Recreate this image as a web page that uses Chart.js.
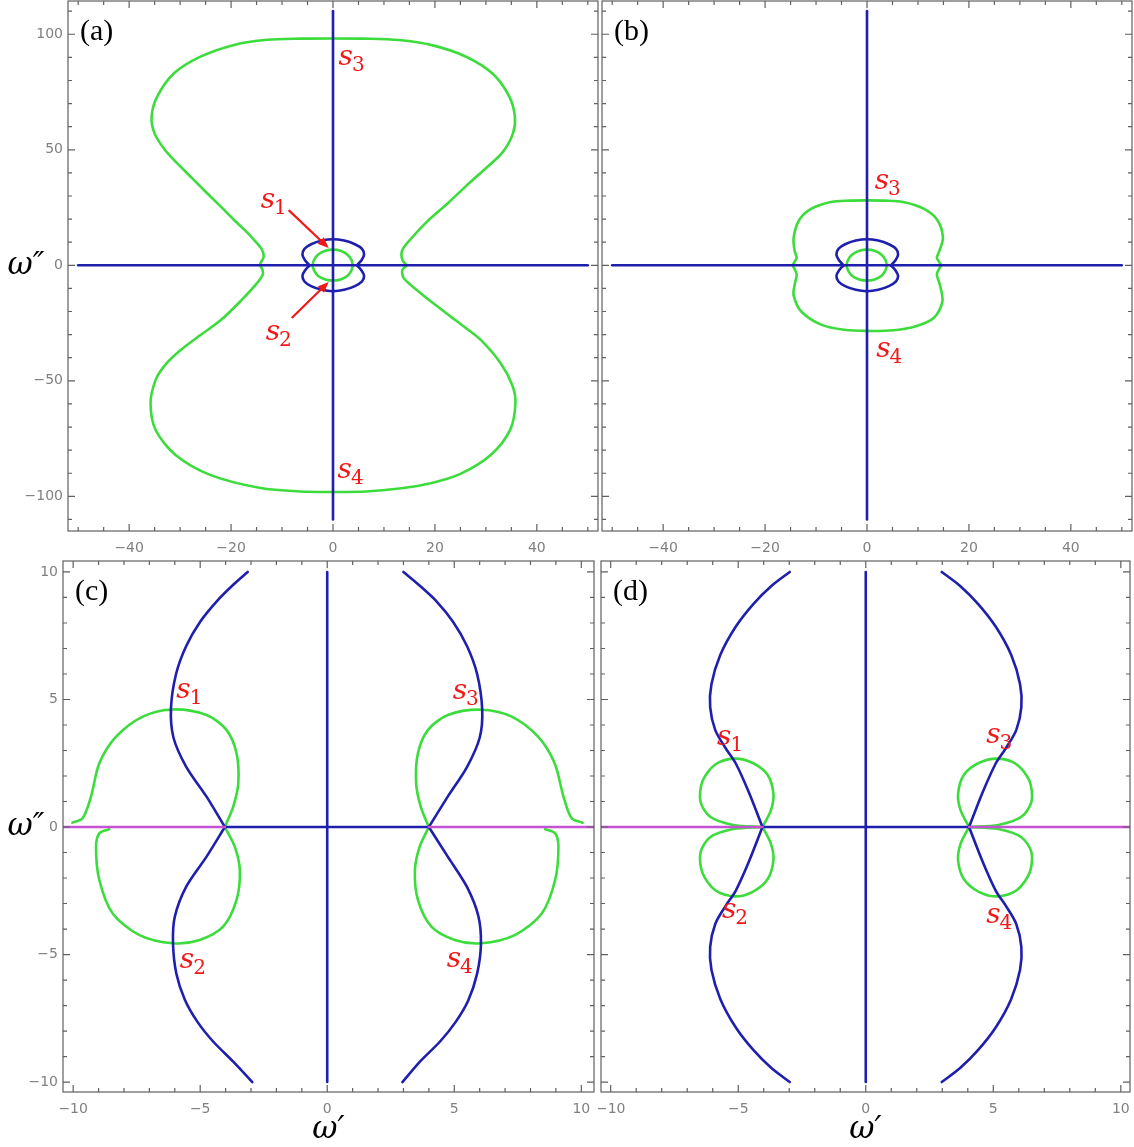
<!DOCTYPE html>
<html>
<head>
<meta charset="utf-8">
<script src="https://cdn.jsdelivr.net/npm/chart.js@4.4.1/dist/chart.umd.min.js"></script>
<style>
  body { margin: 0; background: #fff; }
  #wrap { position: relative; width: 1134px; height: 1147px; }
  canvas { position: absolute; }
</style>
</head>
<body>
<div id="wrap">
  <canvas id="panelA" width="600" height="560" style="left:0;top:0"></canvas>
  <canvas id="panelB" width="534" height="560" style="left:600px;top:0"></canvas>
  <canvas id="panelC" width="598" height="587" style="left:0;top:560px"></canvas>
  <canvas id="panelD" width="536" height="587" style="left:598px;top:560px"></canvas>
</div>
<script>
// ---- tick labels ----
const wideXLabels = [-40, -20, 0, 20, 40];
const wideYLabels = [-100, -50, 0, 50, 100];
const zoomXLabels = [-10, -5, 0, 5, 10];
const zoomYLabels = [-10, -5, 0, 5, 10];

// ---- panels (a), (b): axes and the small central pair ----
const wideAxisH = [[-50, 0], [50, 0]];
const wideAxisV = [[0, -110], [0, 110]];
const ringBlueUpper = [[-4.6,0],[-5.5,2.2],[-6.0,4.6],[-5.6,7.1],[-4.3,9.1],[-2.2,10.7],[0,11.3],[2.2,10.7],[4.3,9.1],[5.7,7.1],[6.1,4.6],[5.6,2.2],[4.7,0]];
const ringBlueLower = [[-4.6,0],[-5.5,-2.2],[-6.0,-4.5],[-5.6,-7.0],[-4.3,-9.0],[-2.2,-10.6],[0,-11.2],[2.2,-10.6],[4.3,-9.0],[5.7,-7.0],[6.1,-4.5],[5.6,-2.2],[4.7,0]];
const ringGreen = [[3.9,0],[3.6,2.4],[2.8,4.7],[1.5,6.3],[0,6.8],[-1.5,6.3],[-2.9,4.7],[-3.7,2.4],[-4.0,0],[-3.7,-2.3],[-2.9,-4.6],[-1.5,-6.1],[0,-6.6],[1.5,-6.1],[2.8,-4.6],[3.6,-2.3],[3.9,0]];

// (a) large hourglass contour
const aGreen = [[14.5,0],[13.6,2.3],[13.6,6.6],[15.3,11.5],[18.5,19],[22.6,27],[26.2,34.5],[30,42],[33.3,49],[35.3,57],[35.7,64],[34.6,73],[31.3,83],[26,90.4],[19.4,95.3],[12.9,97.5],[6.3,98.1],[0,98.2],[-6.3,98.1],[-12.9,97.6],[-19.4,95.4],[-26,90.3],[-31.2,83.1],[-34.5,73],[-35.6,64.3],[-35,57],[-33,50],[-30.6,44.2],[-27.6,37.6],[-24.7,31.2],[-22,25.4],[-19.4,19.6],[-17.2,15],[-15.5,11],[-14,7],[-13.6,3.7],[-14.3,0.4],[-13.8,-2.2],[-13.8,-4.2],[-15.2,-8.5],[-18,-15.2],[-22,-23.7],[-26,-30.2],[-29.9,-36.7],[-33,-43.3],[-34.8,-49.6],[-35.8,-59.6],[-34.8,-71.3],[-30.9,-82.1],[-24,-90.8],[-14.2,-96.4],[-6.5,-97.9],[0,-98.1],[6.5,-97.9],[13,-96.6],[19.2,-94.3],[25,-90.3],[31,-82],[34.8,-71],[35.8,-59.6],[35.2,-52],[32.9,-42.4],[29,-32.3],[26,-27],[23.1,-22.2],[20,-17],[17.2,-12.1],[13.9,-5.6],[13.6,-2],[14.5,0]];

// (b) compact contour
const bGreen = [[14.6,0],[14.2,1.3],[13.7,3.3],[14.2,6.2],[14.9,12],[13.8,19.6],[11.2,24.4],[7.3,27.3],[3.5,28],[0,28.1],[-3.5,28],[-7.3,27.3],[-11,24.4],[-13.3,19.6],[-14.4,12],[-14.2,6.2],[-13.8,3.3],[-14.3,1.2],[-14.6,0],[-14.3,-1.2],[-13.8,-4],[-14.2,-8.4],[-14.4,-13],[-12.9,-20],[-8.9,-25.8],[-4.5,-27.9],[0,-28.4],[5.3,-28.1],[9.6,-26.4],[13.2,-22.6],[14.8,-15.7],[14.3,-8.4],[13.7,-4],[14.2,-1.3],[14.6,0]];

// ---- panels (c), (d) ----
const zoomAxisV = [[0, -10], [0, 10]];
const cAxisH = [[-4.03, 0], [4.0, 0]];
const cMagentaL = [[-10.6, 0], [-4.03, 0]];
const cMagentaR = [[4.0, 0], [10.6, 0]];
const cBlueLeftUp = [[-3.13,10],[-3.7,9.5],[-4.35,8.85],[-5.0,8.05],[-5.55,7.1],[-5.95,6.0],[-6.15,4.65],[-6.05,3.5],[-5.55,2.36],[-4.75,1.19],[-4.03,0]];
const cBlueLeftDown = [[-4.03,0],[-4.75,-1.16],[-5.55,-2.34],[-6.0,-3.52],[-6.07,-4.56],[-5.94,-5.74],[-5.6,-6.78],[-5.1,-7.65],[-4.5,-8.4],[-3.7,-9.2],[-2.95,-10]];
const cBlueRightUp = [[3.0,10],[3.6,9.5],[4.3,8.85],[4.95,8.05],[5.5,7.1],[5.9,6.0],[6.1,4.6],[6.0,3.5],[5.5,2.35],[4.75,1.2],[4.0,0]];
const cBlueRightDown = [[4.0,0],[4.75,-1.17],[5.5,-2.35],[5.95,-3.5],[6.05,-4.6],[5.9,-5.75],[5.55,-6.8],[5.05,-7.65],[4.45,-8.4],[3.65,-9.2],[2.96,-10]];
const cGreenLeftUp = [[-4.03,0],[-3.7,0.8],[-3.5,1.71],[-3.57,2.89],[-3.96,3.8],[-4.75,4.39],[-6.07,4.61],[-7.26,4.33],[-8.31,3.54],[-8.97,2.5],[-9.3,1.19],[-9.63,0.34],[-10.03,0.17]];
const cGreenLeftDown = [[-4.03,0],[-3.64,-0.77],[-3.44,-1.69],[-3.57,-2.86],[-4.1,-3.91],[-5.02,-4.43],[-6.07,-4.56],[-7.39,-4.24],[-8.45,-3.38],[-8.97,-2.08],[-9.1,-0.77],[-8.97,-0.25],[-8.58,-0.09]];
const cGreenRightUp = [[4.0,0],[3.68,0.8],[3.5,1.71],[3.57,2.89],[3.96,3.8],[4.75,4.39],[6.05,4.6],[7.26,4.33],[8.3,3.54],[8.95,2.5],[9.3,1.19],[9.62,0.34],[10.05,0.17]];
const cGreenRightDown = [[4.0,0],[3.64,-0.77],[3.45,-1.69],[3.57,-2.86],[4.1,-3.91],[5.02,-4.43],[6.05,-4.56],[7.38,-4.24],[8.45,-3.38],[8.97,-2.08],[9.1,-0.77],[8.97,-0.25],[8.58,-0.09]];

const dAxisH = [[-4.05, 0], [4.05, 0]];
const dMagentaL = [[-10.6, 0], [-4.05, 0]];
const dMagentaR = [[4.05, 0], [10.6, 0]];
const dBlueLeftUp = [[-2.98,10],[-3.7,9.45],[-4.4,8.75],[-5.1,7.85],[-5.7,6.75],[-6.05,5.6],[-6.1,4.7],[-5.9,3.8],[-5.5,3.1],[-5.1,2.5],[-4.6,1.4],[-4.05,0]];
const dBlueLeftDown = [[-4.05,0],[-4.6,-1.4],[-5.1,-2.5],[-5.5,-3.1],[-5.9,-3.8],[-6.1,-4.7],[-6.05,-5.6],[-5.7,-6.75],[-5.1,-7.85],[-4.4,-8.75],[-3.7,-9.45],[-2.98,-10]];
const dBlueRightUp = [[2.98,10],[3.7,9.45],[4.4,8.75],[5.1,7.85],[5.7,6.75],[6.05,5.6],[6.1,4.7],[5.9,3.8],[5.5,3.1],[5.1,2.5],[4.6,1.4],[4.05,0]];
const dBlueRightDown = [[4.05,0],[4.6,-1.4],[5.1,-2.5],[5.5,-3.1],[5.9,-3.8],[6.1,-4.7],[6.05,-5.6],[5.7,-6.75],[5.1,-7.85],[4.4,-8.75],[3.7,-9.45],[2.98,-10]];
const dGreenLeftUp = [[-4.05,0],[-3.72,0.65],[-3.62,1.3],[-3.85,2.05],[-4.45,2.52],[-5.16,2.68],[-5.9,2.45],[-6.4,1.8],[-6.48,1.0],[-6.1,0.4],[-5.2,0.08],[-4.05,0]];
const dGreenLeftDown = [[-4.05,0],[-3.72,-0.65],[-3.62,-1.3],[-3.85,-2.05],[-4.45,-2.55],[-5.16,-2.72],[-5.9,-2.48],[-6.4,-1.8],[-6.48,-1.0],[-6.1,-0.4],[-5.2,-0.08],[-4.05,0]];
const dGreenRightUp = [[4.05,0],[3.72,0.65],[3.62,1.3],[3.85,2.05],[4.45,2.52],[5.2,2.68],[5.92,2.45],[6.42,1.8],[6.5,1.0],[6.1,0.4],[5.2,0.08],[4.05,0]];
const dGreenRightDown = [[4.05,0],[3.72,-0.65],[3.62,-1.3],[3.85,-2.05],[4.45,-2.55],[5.2,-2.72],[5.92,-2.48],[6.42,-1.8],[6.5,-1.0],[6.1,-0.4],[5.2,-0.08],[4.05,0]];

// saddle-point labels: [x, y, index]
const aSaddles = [[1.1, 86.7, '3'], [-14.2, 24.8, '1'], [-13.2, -32.3, '2'], [0.9, -92, '4']];
const aArrows = [[[-8.7, 23.9], [-0.85, 7.5]], [[-8.1, -22.8], [-0.85, -7.2]]];
const bSaddles = [[1.5, 33.2, '3'], [1.8, -39.7, '4']];
const cSaddles = [[-5.94, 5.05, '1'], [-5.8, -5.54, '2'], [4.94, 5.02, '3'], [4.7, -5.49, '4']];
const dSaddles = [[-5.83, 3.2, '1'], [-5.64, -3.57, '2'], [4.72, 3.3, '3'], [4.72, -3.76, '4']];

const GREEN = '#3ddc3d';
const BLUE = '#1f1fae';
const MAGENTA = '#c452d2';
const RED = '#f01818';

const pts = arr => arr.map(([x, y]) => ({x, y}));

function curve(arr, color, smooth) {
  return {
    data: pts(arr),
    borderColor: color,
    borderWidth: 2.6,
    showLine: true,
    pointRadius: 0,
    tension: smooth ? 0.3 : 0,
    borderCapStyle: 'round',
    borderJoinStyle: 'round'
  };
}

const minus = v => String(v).replace('-', '\u2212');

function axis(min, max, labels, show, size, pad) {
  return {
    type: 'linear',
    min: min,
    max: max,
    display: show,
    grid: {display: false, drawTicks: false},
    border: {display: false},
    ticks: {
      autoSkip: false,
      maxRotation: 0,
      padding: pad,
      color: '#808080',
      font: {family: 'DejaVu Sans', size: 14},
      callback: minus
    },
    afterBuildTicks: s => { s.ticks = labels.map(value => ({value})); },
    afterFit: s => {
      if (s.isHorizontal()) s.height = size; else s.width = size;
      // keep the plot box fixed; end labels may hang over the edge
      s.paddingTop = s.paddingBottom = s.paddingLeft = s.paddingRight = 0;
    }
  };
}

// frame with inward ticks on all four sides, panel tag, saddle labels, arrows, axis titles
const decor = {
  id: 'decor',
  afterDatasetsDraw(chart, args, o) {
    const {ctx, chartArea: a, scales: {x, y}} = chart;
    ctx.save();
    ctx.strokeStyle = '#606060';
    ctx.lineWidth = 1.2;
    ctx.strokeRect(a.left, a.top, a.right - a.left, a.bottom - a.top);

    const marks = (scale, minor, major, horiz) => {
      const first = Math.ceil(scale.min / minor);
      const last = Math.floor(scale.max / minor);
      for (let k = first; k <= last; k++) {
        const v = k * minor;
        const len = (Math.abs(v % major) < 1e-6) ? 7 : 4;
        const p = scale.getPixelForValue(v);
        ctx.beginPath();
        if (horiz) {
          ctx.moveTo(p, a.bottom); ctx.lineTo(p, a.bottom - len);
          ctx.moveTo(p, a.top); ctx.lineTo(p, a.top + len);
        } else {
          ctx.moveTo(a.left, p); ctx.lineTo(a.left + len, p);
          ctx.moveTo(a.right, p); ctx.lineTo(a.right - len, p);
        }
        ctx.stroke();
      }
    };
    marks(x, o.xMinor, o.xMajor, true);
    marks(y, o.yMinor, o.yMajor, false);

    ctx.fillStyle = '#000';
    ctx.textAlign = 'left';
    ctx.textBaseline = 'alphabetic';
    ctx.font = '30px "Liberation Serif"';
    ctx.fillText(o.tag, a.left + 12, a.top + 39);

    (o.saddles || []).forEach(([sx, sy, n]) => {
      const px = x.getPixelForValue(sx);
      const py = y.getPixelForValue(sy);
      ctx.fillStyle = RED;
      ctx.font = 'italic 28px "DejaVu Serif"';
      ctx.fillText('s', px, py);
      const w = ctx.measureText('s').width;
      ctx.font = '20px "DejaVu Serif"';
      ctx.fillText(n, px + w - 1, py + 6);
    });

    (o.arrows || []).forEach(([from, to]) => {
      const x1 = x.getPixelForValue(from[0]), y1 = y.getPixelForValue(from[1]);
      const x2 = x.getPixelForValue(to[0]), y2 = y.getPixelForValue(to[1]);
      const ang = Math.atan2(y2 - y1, x2 - x1);
      const head = 11;
      ctx.strokeStyle = RED;
      ctx.fillStyle = RED;
      ctx.lineWidth = 2.2;
      ctx.beginPath();
      ctx.moveTo(x1, y1);
      ctx.lineTo(x2 - head * 0.8 * Math.cos(ang), y2 - head * 0.8 * Math.sin(ang));
      ctx.stroke();
      ctx.beginPath();
      ctx.moveTo(x2, y2);
      ctx.lineTo(x2 - head * Math.cos(ang) + 4.5 * Math.sin(ang), y2 - head * Math.sin(ang) - 4.5 * Math.cos(ang));
      ctx.lineTo(x2 - head * Math.cos(ang) - 4.5 * Math.sin(ang), y2 - head * Math.sin(ang) + 4.5 * Math.cos(ang));
      ctx.closePath();
      ctx.fill();
    });

    ctx.fillStyle = '#000';
    ctx.textAlign = 'center';
    ctx.textBaseline = 'middle';
    ctx.font = 'italic 31px "DejaVu Serif"';
    if (o.yTitle) ctx.fillText(o.yTitle, 26, (a.top + a.bottom) / 2);
    if (o.xTitle) ctx.fillText(o.xTitle, (a.left + a.right) / 2, a.bottom + 38);
    ctx.restore();
  }
};

function panel(id, datasets, scales, padding, deco) {
  new Chart(document.getElementById(id), {
    type: 'scatter',
    data: {datasets: datasets},
    options: {
      responsive: false,
      animation: false,
      devicePixelRatio: 1,
      layout: {padding: padding, autoPadding: false},
      plugins: {legend: {display: false}, tooltip: {enabled: false}, decor: deco},
      scales: scales
    },
    plugins: [decor]
  });
}

// (a)
panel('panelA', [
  curve(wideAxisV, BLUE), curve(wideAxisH, BLUE),
  curve(ringBlueUpper, BLUE, true), curve(ringBlueLower, BLUE, true),
  curve(ringGreen, GREEN, true), curve(aGreen, GREEN, true)
], {
  x: axis(-52, 52, wideXLabels, true, 29, 9),
  y: axis(-115, 114.4, wideYLabels, true, 68, 5)
}, {left: 0, top: 1, right: 2, bottom: 0}, {
  tag: '(a)', xMinor: 5, xMajor: 20, yMinor: 10, yMajor: 50,
  saddles: aSaddles, arrows: aArrows, yTitle: '\u03c9\u2033'
});

// (b)
panel('panelB', [
  curve(wideAxisV, BLUE), curve(wideAxisH, BLUE),
  curve(ringBlueUpper, BLUE, true), curve(ringBlueLower, BLUE, true),
  curve(ringGreen, GREEN, true), curve(bGreen, GREEN, true)
], {
  x: axis(-52, 52, wideXLabels, true, 29, 9),
  y: axis(-115, 114.4, wideYLabels, false, 0, 5)
}, {left: 2, top: 1, right: 2, bottom: 0}, {
  tag: '(b)', xMinor: 5, xMajor: 20, yMinor: 10, yMajor: 50,
  saddles: bSaddles
});

// (c)
panel('panelC', [
  curve(cMagentaL, MAGENTA), curve(cMagentaR, MAGENTA),
  curve(zoomAxisV, BLUE), curve(cAxisH, BLUE),
  curve(cBlueLeftUp, BLUE, true), curve(cBlueLeftDown, BLUE, true),
  curve(cBlueRightUp, BLUE, true), curve(cBlueRightDown, BLUE, true),
  curve(cGreenLeftUp, GREEN, true), curve(cGreenLeftDown, GREEN, true),
  curve(cGreenRightUp, GREEN, true), curve(cGreenRightDown, GREEN, true)
], {
  x: axis(-10.4, 10.5, zoomXLabels, true, 55, 9),
  y: axis(-10.39, 10.43, zoomYLabels, true, 63, 5)
}, {left: 0, top: 1, right: 4, bottom: 0}, {
  tag: '(c)', xMinor: 1, xMajor: 5, yMinor: 1, yMajor: 5,
  saddles: cSaddles, yTitle: '\u03c9\u2033', xTitle: '\u03c9\u2032'
});

// (d)
panel('panelD', [
  curve(dMagentaL, MAGENTA), curve(dMagentaR, MAGENTA),
  curve(zoomAxisV, BLUE), curve(dAxisH, BLUE),
  curve(dBlueLeftUp, BLUE, true), curve(dBlueLeftDown, BLUE, true),
  curve(dBlueRightUp, BLUE, true), curve(dBlueRightDown, BLUE, true),
  curve(dGreenLeftUp, GREEN, true), curve(dGreenLeftDown, GREEN, true),
  curve(dGreenRightUp, GREEN, true), curve(dGreenRightDown, GREEN, true)
], {
  x: axis(-10.38, 10.36, zoomXLabels, true, 55, 9),
  y: axis(-10.39, 10.43, zoomYLabels, false, 0, 5)
}, {left: 3, top: 1, right: 4, bottom: 0}, {
  tag: '(d)', xMinor: 1, xMajor: 5, yMinor: 1, yMajor: 5,
  saddles: dSaddles, xTitle: '\u03c9\u2032'
});
</script>
</body>
</html>
